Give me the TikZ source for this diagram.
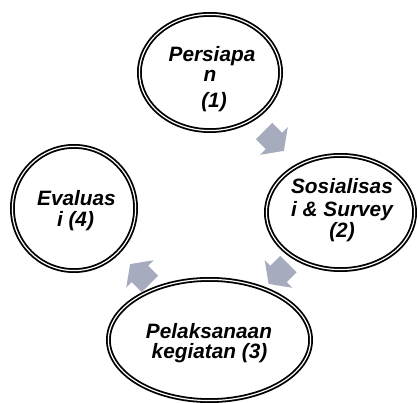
\documentclass[tikz,border=0pt]{standalone}
\usepackage{fontspec}
\setmainfont{Liberation Sans}
\usetikzlibrary{shapes.geometric}
\definecolor{arrowgray}{RGB}{166,172,190}
\begin{document}
\begin{tikzpicture}[x=1pt,y=-1pt,
  stage/.style={ellipse, draw=black, line width=1.8pt, double=white, double distance=1.2pt, inner sep=0pt},
  lbl/.style={anchor=base, inner sep=0pt, font=\fontsize{20.8}{22}\selectfont\bfseries\itshape},
  blockarrow/.pic={\fill[arrowgray] (-14,-11.5) -- (0,-11.5) -- (0,-19.5) -- (14,0) -- (0,19.5) -- (0,11.5) -- (-14,11.5) -- cycle;}]
\useasboundingbox (0,0) rectangle (418,403);
% stages
\node[stage, minimum width=141.2pt, minimum height=116.2pt] (e1) at (210,72.5) {};
\node[stage, minimum width=148.2pt, minimum height=114.2pt] (e2) at (340.5,212.5) {};
\node[stage, minimum width=202.2pt, minimum height=121.2pt] (e3) at (209.5,340) {};
\node[stage, minimum width=123.2pt, minimum height=124.2pt] (e4) at (74,208.5) {};
% labels
\node[lbl] (t1a) at (212,62) {Persiapa};
\node[lbl] (t1b) at (210,81.7) {n};
\node[lbl] (t1c) at (214,107.3) {(1)};
\node[lbl] (t2a) at (342,193.3) {Sosialisas};
\node[lbl] (t2b) at (342,216.7) {i \& Survey};
\node[lbl] (t2c) at (342,238) {(2)};
\node[lbl] (t3a) at (209,338.3) {Pelaksanaan};
\node[lbl] (t3b) at (209.5,358.3) {kegiatan (3)};
\node[lbl] (t4a) at (76.5,205.3) {Evaluas};
\node[lbl] (t4b) at (75.5,226.7) {i (4)};
% arrows
\pic[rotate=-45] at (274,141) {blockarrow};
\pic[rotate=-135] at (278.5,274) {blockarrow};
\pic[rotate=135] at (140,274) {blockarrow};
\end{tikzpicture}
\end{document}
